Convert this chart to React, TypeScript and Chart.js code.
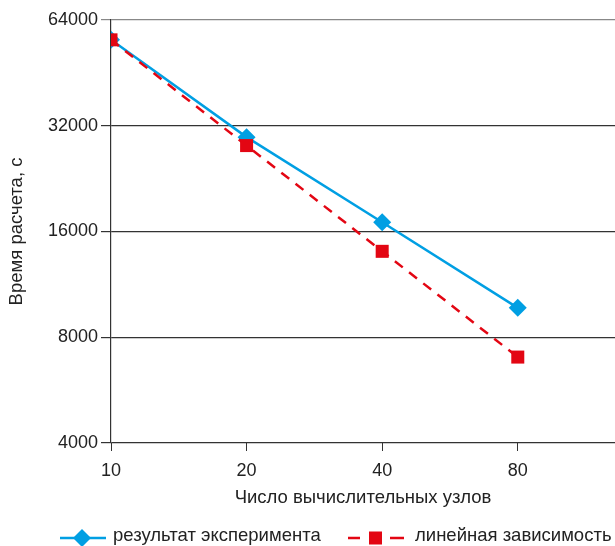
import React, { useEffect, useRef } from "react";
import { Chart, registerables } from "chart.js";

Chart.register(...registerables);

const nodes = [10, 20, 40, 80];
const experiment = [56200, 29700, 17000, 9700];
const linear = [56200, 28100, 14050, 7025];
const yTicks = [4000, 8000, 16000, 32000, 64000];
const xTicks = [10, 20, 40, 80];
const xTitle = "Число вычислительных узлов";
const yTitle = "Время расчета, с";
const legendLabels = ["результат эксперимента", "линейная зависимость"];

const BLUE = "#009fe3";
const RED = "#e30613";
const FONT = "'Liberation Sans', Arial, sans-serif";

const legendPlugin = {
  id: "customLegend",
  afterDraw(chart: any) {
    const ctx = chart.ctx;
    const y = 538;
    ctx.save();
    ctx.strokeStyle = BLUE;
    ctx.lineWidth = 2.5;
    ctx.setLineDash([]);
    ctx.beginPath();
    ctx.moveTo(60, y);
    ctx.lineTo(106, y);
    ctx.stroke();
    ctx.fillStyle = BLUE;
    ctx.beginPath();
    ctx.moveTo(82, y - 9);
    ctx.lineTo(91, y);
    ctx.lineTo(82, y + 9);
    ctx.lineTo(73, y);
    ctx.closePath();
    ctx.fill();
    ctx.strokeStyle = RED;
    ctx.beginPath();
    ctx.moveTo(348, y);
    ctx.lineTo(360, y);
    ctx.moveTo(390, y);
    ctx.lineTo(404, y);
    ctx.stroke();
    ctx.fillStyle = RED;
    ctx.fillRect(369, y - 6.5, 13, 13);
    ctx.fillStyle = "#222";
    ctx.font = "18.5px " + FONT;
    ctx.textBaseline = "middle";
    ctx.textAlign = "left";
    ctx.fillText(legendLabels[0], 113, y - 2);
    ctx.fillText(legendLabels[1], 415, y - 2);
    ctx.restore();
  },
};

export default function App() {
  const ref = useRef<HTMLCanvasElement>(null);
  useEffect(() => {
    const chart = new Chart(ref.current!, {
      type: "line",
      data: {
        datasets: [
          {
            label: legendLabels[0],
            data: nodes.map((x, i) => ({ x, y: experiment[i] })),
            borderColor: BLUE,
            backgroundColor: BLUE,
            borderWidth: 2.5,
            pointStyle: "rectRot",
            pointRadius: 9,
            pointBorderWidth: 0,
            order: 1,
          },
          {
            label: legendLabels[1],
            data: nodes.map((x, i) => ({ x, y: linear[i] })),
            borderColor: RED,
            backgroundColor: RED,
            borderWidth: 2.5,
            borderDash: [10, 8],
            pointStyle: "rect",
            pointRadius: 9.2,
            pointBorderWidth: 0,
            order: 0,
          },
        ],
      },
      plugins: [legendPlugin],
      options: {
        animation: false,
        responsive: false,
        maintainAspectRatio: false,
        layout: { autoPadding: false, padding: { top: 20, right: 0, bottom: 37, left: 0 } },
        plugins: { legend: { display: false }, tooltip: { enabled: false } },
        scales: {
          x: {
            type: "logarithmic",
            min: 10,
            max: 131.5,
            afterBuildTicks: (s: any) => {
              s.ticks = xTicks.map((v) => ({ value: v }));
            },
            afterFit: (s: any) => {
              s.height = 66;
              s.paddingLeft = 0;
              s.paddingRight = 0;
            },
            grid: {
              drawOnChartArea: false,
              drawTicks: true,
              tickLength: 8,
              color: "#333",
            },
            border: { display: false },
            ticks: {
              color: "#222",
              font: { size: 18, family: FONT },
              padding: 9,
              autoSkip: false,
              maxRotation: 0,
              callback: (v: any) => String(v),
            },
            title: {
              display: true,
              text: xTitle,
              color: "#222",
              font: { size: 18.5, family: FONT },
              padding: { top: 0, bottom: 0 },
            },
          },
          y: {
            type: "logarithmic",
            min: 4000,
            max: 64000,
            afterBuildTicks: (s: any) => {
              s.ticks = yTicks.map((v) => ({ value: v }));
            },
            afterFit: (s: any) => {
              s.width = 111;
              s.paddingTop = 0;
              s.paddingBottom = 0;
            },
            grid: {
              drawTicks: true,
              tickLength: 10,
              lineWidth: 1.2,
              color: (c: any) => (c.tick && c.tick.value === 64000 ? "#888" : "#333"),
            },
            border: { display: true, color: "#333", width: 1.2 },
            ticks: {
              color: "#222",
              font: { size: 18, family: FONT },
              padding: 3,
              autoSkip: false,
              callback: (v: any) => String(v),
            },
            title: {
              display: true,
              text: yTitle,
              color: "#222",
              font: { size: 18.5, family: FONT },
              padding: { top: 6, bottom: 0 },
            },
          },
        },
      },
    } as any);
    return () => chart.destroy();
  }, []);
  return (
    <div style={{ position: "fixed", left: 0, top: 0, width: 615, height: 546, background: "#fff" }}>
      <canvas ref={ref} width={615} height={546} style={{ display: "block" }} />
    </div>
  );
}
